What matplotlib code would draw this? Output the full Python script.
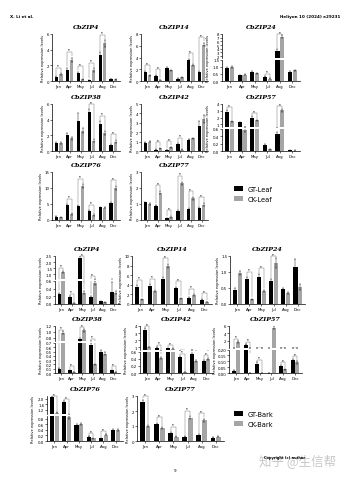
import numpy as np
import matplotlib.pyplot as plt

W, H = 351, 481

months = ['Jan', 'Apr', 'May', 'Jul', 'Aug', 'Dec']
genes = ['CbZIP4', 'CbZIP14', 'CbZIP24', 'CbZIP38', 'CbZIP42', 'CbZIP57', 'CbZIP76', 'CbZIP77']

# ---- leaf data ----
leaf_gt = {
    'CbZIP4': [0.5, 1.4, 1.0, 0.1, 3.3, 0.25],
    'CbZIP14': [1.5, 0.9, 2.2, 0.4, 3.5, 1.5],
    'CbZIP24': [0.9, 0.4, 0.65, 0.3, 3.4, 0.65],
    'CbZIP38': [1.0, 2.1, 3.8, 5.0, 3.5, 0.8],
    'CbZIP42': [0.9, 0.15, 0.1, 0.7, 1.2, 2.7],
    'CbZIP57': [2.8, 1.3, 2.0, 0.15, 0.47, 0.02],
    'CbZIP76': [1.0, 4.6, 4.3, 2.7, 4.0, 5.3],
    'CbZIP77': [1.1, 0.9, 0.1, 0.55, 0.7, 0.75],
}
leaf_ck = {
    'CbZIP4': [0.9, 2.7, 0.2, 1.4, 4.8, 0.2],
    'CbZIP14': [1.0, 0.2, 1.8, 0.6, 2.7, 6.2],
    'CbZIP24': [1.0, 0.45, 0.55, 0.15, 7.2, 0.75],
    'CbZIP38': [1.0, 1.6, 2.6, 1.3, 2.3, 1.2],
    'CbZIP42': [1.0, 0.3, 0.4, 0.15, 1.35, 3.4],
    'CbZIP57': [1.45, 0.58, 1.6, 0.05, 3.05, 0.01],
    'CbZIP76': [0.8, 2.0, 10.5, 1.6, 3.8, 10.0],
    'CbZIP77': [1.0, 1.7, 0.2, 2.3, 1.35, 0.95],
}
leaf_gt_err = {
    'CbZIP4': [0.1, 0.3, 0.2, 0.05, 0.4, 0.05],
    'CbZIP14': [0.2, 0.1, 0.2, 0.05, 0.3, 0.2],
    'CbZIP24': [0.1, 0.05, 0.08, 0.05, 0.5, 0.05],
    'CbZIP38': [0.1, 0.2, 1.0, 0.3, 0.3, 0.1],
    'CbZIP42': [0.05, 0.03, 0.03, 0.1, 0.05, 0.5],
    'CbZIP57': [0.3, 0.1, 0.2, 0.03, 0.05, 0.01],
    'CbZIP76': [0.2, 0.3, 0.5, 0.3, 0.2, 0.3],
    'CbZIP77': [0.05, 0.05, 0.03, 0.05, 0.05, 0.05],
}
leaf_ck_err = {
    'CbZIP4': [0.1, 0.3, 0.05, 0.2, 0.4, 0.05],
    'CbZIP14': [0.1, 0.05, 0.1, 0.1, 0.2, 0.3],
    'CbZIP24': [0.05, 0.05, 0.05, 0.03, 0.4, 0.05],
    'CbZIP38': [0.1, 0.2, 0.3, 0.2, 0.2, 0.2],
    'CbZIP42': [0.05, 0.05, 0.05, 0.03, 0.05, 0.4],
    'CbZIP57': [0.1, 0.05, 0.1, 0.01, 0.2, 0.01],
    'CbZIP76': [0.2, 0.3, 0.6, 0.2, 0.2, 0.6],
    'CbZIP77': [0.05, 0.1, 0.05, 0.1, 0.1, 0.1],
}
leaf_sig = {
    'CbZIP4': [0, 1, 2, 3, 4], 'CbZIP14': [0, 1, 4, 5], 'CbZIP24': [3, 4],
    'CbZIP38': [3, 4, 5], 'CbZIP42': [1, 2, 3], 'CbZIP57': [0, 2, 4],
    'CbZIP76': [1, 2, 3, 5], 'CbZIP77': [1, 2, 3, 4, 5],
}

# ---- bark data ----
bark_gt = {
    'CbZIP4': [0.25, 0.18, 2.3, 0.18, 0.07, 0.32],
    'CbZIP14': [3.6, 3.8, 5.2, 3.3, 1.3, 0.9],
    'CbZIP24': [0.45, 0.78, 0.85, 0.72, 0.47, 1.15],
    'CbZIP38': [0.1, 0.06, 0.75, 0.65, 0.5, 0.06],
    'CbZIP42': [3.5, 0.9, 0.85, 0.45, 0.55, 0.33],
    'CbZIP57': [0.02, 1.0, 0.08, 0.0, 0.06, 0.11],
    'CbZIP76': [2.1, 1.75, 0.58, 0.15, 0.1, 0.4],
    'CbZIP77': [2.6, 1.15, 0.55, 0.3, 0.4, 0.22],
}
bark_ck = {
    'CbZIP4': [1.2, 0.02, 0.3, 0.55, 0.04, 0.3],
    'CbZIP14': [1.0, 2.7, 8.0, 1.2, 1.8, 0.4],
    'CbZIP24': [0.98, 0.15, 0.4, 1.28, 0.33, 0.53],
    'CbZIP38': [0.97, 0.02, 1.05, 0.2, 0.45, 0.02],
    'CbZIP42': [1.0, 0.42, 0.8, 0.02, 0.35, 0.4],
    'CbZIP57': [1.7, 0.0, 0.0, 5.5, 0.03, 0.09],
    'CbZIP76': [1.0, 0.85, 0.6, 0.1, 0.22, 0.4],
    'CbZIP77': [1.0, 0.85, 0.3, 1.55, 1.4, 0.3],
}
bark_gt_err = {
    'CbZIP4': [0.03, 0.02, 0.2, 0.02, 0.01, 0.25],
    'CbZIP14': [0.3, 0.3, 0.4, 0.3, 0.2, 0.1],
    'CbZIP24': [0.05, 0.05, 0.08, 0.06, 0.04, 0.25],
    'CbZIP38': [0.01, 0.01, 0.05, 0.04, 0.03, 0.01],
    'CbZIP42': [0.2, 0.05, 0.05, 0.03, 0.03, 0.03],
    'CbZIP57': [0.005, 0.1, 0.01, 0.0, 0.01, 0.01],
    'CbZIP76': [0.1, 0.08, 0.04, 0.02, 0.02, 0.03],
    'CbZIP77': [0.15, 0.08, 0.05, 0.03, 0.05, 0.03],
}
bark_ck_err = {
    'CbZIP4': [0.1, 0.005, 0.03, 0.05, 0.01, 0.03],
    'CbZIP14': [0.1, 0.2, 0.4, 0.1, 0.2, 0.05],
    'CbZIP24': [0.06, 0.02, 0.04, 0.15, 0.03, 0.08],
    'CbZIP38': [0.05, 0.005, 0.06, 0.02, 0.03, 0.005],
    'CbZIP42': [0.05, 0.03, 0.05, 0.005, 0.03, 0.03],
    'CbZIP57': [0.2, 0.0, 0.0, 0.4, 0.005, 0.01],
    'CbZIP76': [0.05, 0.05, 0.04, 0.02, 0.02, 0.03],
    'CbZIP77': [0.05, 0.06, 0.03, 0.1, 0.1, 0.03],
}
bark_sig = {
    'CbZIP4': [0, 1, 2, 3], 'CbZIP14': [0, 1, 2, 3, 4, 5], 'CbZIP24': [1, 2, 3],
    'CbZIP38': [0, 1, 2, 3, 5], 'CbZIP42': [0, 1, 2, 3, 5], 'CbZIP57': [0, 1, 2, 4, 5],
    'CbZIP76': [0, 1, 3, 4], 'CbZIP77': [0, 1, 2, 3, 4],
}

# ---- y axis specs (single or broken) ----
leaf_axes = {
    'CbZIP4': dict(lim=(0, 6), ticks=[0, 2, 4, 6]),
    'CbZIP14': dict(lim=(0, 8), ticks=[0, 2, 4, 6, 8]),
    'CbZIP24': dict(lower=(0, 1.5), lticks=[0, 0.5, 1.0, 1.5], upper=(1.5, 8), uticks=[2, 3, 4, 5, 6, 7, 8], split=0.47),
    'CbZIP38': dict(lim=(0, 6), ticks=[0, 2, 4, 6]),
    'CbZIP42': dict(lim=(0, 5), ticks=[0, 1, 2, 3, 4, 5]),
    'CbZIP57': dict(lower=(0, 0.6), lticks=[0, 0.2, 0.4, 0.6], upper=(0.6, 4), uticks=[1, 2, 3, 4], split=0.49),
    'CbZIP76': dict(lim=(0, 15), ticks=[0, 5, 10, 15]),
    'CbZIP77': dict(lim=(0, 3), ticks=[0, 1, 2, 3]),
}
bark_axes = {
    'CbZIP4': dict(lower=(0, 0.6), lticks=[0, 0.2, 0.4, 0.6], upper=(0.6, 2.5), uticks=[1.0, 1.5, 2.0, 2.5], split=0.5),
    'CbZIP14': dict(lim=(0, 10), ticks=[0, 2, 4, 6, 8, 10]),
    'CbZIP24': dict(lim=(0, 1.5), ticks=[0, 0.5, 1.0, 1.5]),
    'CbZIP38': dict(lower=(0, 0.7), lticks=[0, 0.1, 0.2, 0.3, 0.4, 0.5, 0.6, 0.7], upper=(0.7, 1.2), uticks=[0.8, 1.0, 1.2], split=0.66),
    'CbZIP42': dict(lower=(0, 0.6), lticks=[0, 0.2, 0.4, 0.6], upper=(0.6, 4), uticks=[1, 2, 3, 4], split=0.47),
    'CbZIP57': dict(lower=(0, 0.2), lticks=[0, 0.05, 0.1, 0.15, 0.2], upper=(0.2, 6), uticks=[2, 4, 6], split=0.52),
    'CbZIP76': dict(lower=(0, 0.9), lticks=[0, 0.2, 0.4, 0.6, 0.8], upper=(0.9, 2.2), uticks=[1.2, 1.6, 2.0], split=0.58),
    'CbZIP77': dict(lim=(0, 3), ticks=[0, 1, 2, 3]),
}

# panel boxes in pixels: left, top, right, bottom
leaf_boxes = [(52, 35, 120, 82), (141, 35, 208, 82), (222, 35, 300, 82),
              (52, 105, 120, 152), (141, 105, 208, 152), (222, 105, 300, 152),
              (52, 173, 120, 221), (141, 173, 208, 221)]
bark_boxes = [(55, 257, 120, 305), (132, 257, 212, 305), (230, 257, 305, 305),
              (55, 327, 120, 374), (140, 327, 213, 374), (229, 327, 302, 374),
              (47, 397, 123, 442), (137, 397, 224, 442)]

GT_COLOR = '#000000'
CK_COLOR = '#a5a5a5'
x = np.arange(len(months))
bw = 0.34


def px_rect(l, t, r, b):
    return [l / W, 1 - b / H, (r - l) / W, (b - t) / H]


def style(ax, bottom=True):
    for s in ['top', 'right']:
        ax.spines[s].set_visible(False)
    ax.spines['left'].set_linewidth(0.5)
    ax.spines['bottom'].set_linewidth(0.5)
    ax.spines['bottom'].set_visible(bottom)
    ax.tick_params(labelsize=2.8, length=1.2, width=0.4, pad=0.8)
    ax.set_xlim(-0.6, len(months) - 0.4)
    if bottom:
        ax.set_xticks(x)
        ax.set_xticklabels(months)
    else:
        ax.set_xticks([])


def bars(ax, gt, ck, gte, cke):
    ek = dict(elinewidth=0.3, capsize=0.8, capthick=0.3, ecolor='black')
    b1 = ax.bar(x - bw / 2 - 0.02, gt, bw, color=GT_COLOR, yerr=gte, error_kw=ek)
    b2 = ax.bar(x + bw / 2 + 0.02, ck, bw, color=CK_COLOR, yerr=cke, error_kw=ek)
    return b1, b2


def draw_panel(fig, box, gene, gt, ck, gte, cke, sig, spec):
    l, t, r, b = box
    if 'lim' in spec:
        ax = fig.add_axes(px_rect(l, t, r, b))
        h = bars(ax, gt, ck, gte, cke)
        ax.set_ylim(*spec['lim'])
        ax.set_yticks(spec['ticks'])
        style(ax)
        axs = [ax]
        top_ax = ax
        ymax = spec['lim'][1]
        ax.set_ylabel('Relative expression levels', fontsize=2.6, labelpad=1)
    else:
        hgt = b - t
        mid = b - spec['split'] * hgt
        lo = fig.add_axes(px_rect(l, mid + 1, r, b))
        up = fig.add_axes(px_rect(l, t, r, mid - 1))
        h = bars(lo, gt, ck, gte, cke)
        bars(up, gt, ck, gte, cke)
        lo.set_ylim(*spec['lower'])
        lo.set_yticks(spec['lticks'])
        up.set_ylim(*spec['upper'])
        up.set_yticks(spec['uticks'])
        style(lo)
        style(up, bottom=False)
        axs = [lo, up]
        top_ax = up
        ymax = spec['upper'][1]
        fig.text((l - 14) / W, 1 - (t + b) / 2 / H, 'Relative expression levels',
                 fontsize=2.6, rotation=90, ha='center', va='center')
    top_ax.set_title(gene, fontsize=4.6, family='DejaVu Serif', style='italic',
                     fontweight='bold', pad=4)

    # significance brackets
    for i in sig:
        g_top = gt[i] + gte[i]
        c_top = ck[i] + cke[i]
        top = max(g_top, c_top)
        if 'lim' in spec:
            rng = spec['lim'][1] - spec['lim'][0]
        else:
            seg = spec['lower'] if top <= spec['lower'][1] else spec['upper']
            rng = seg[1] - seg[0]
        lvl = min(top + 0.12 * rng, ymax)
        xs = [x[i] - bw / 2 - 0.02, x[i] - bw / 2 - 0.02, x[i] + bw / 2 + 0.02, x[i] + bw / 2 + 0.02]
        ys = [min(g_top + 0.03 * rng, lvl), lvl, lvl, min(c_top + 0.03 * rng, lvl)]
        for ax in axs:
            ax.plot(xs, ys, color='#666666', lw=0.3, clip_on=False if ax is top_ax and lvl >= ymax else True)
        # star label goes in the axis holding the bracket level
        holder = axs[0] if len(axs) == 1 or lvl <= spec['lower'][1] else axs[1]
        holder.text(x[i], lvl, '**', fontsize=2.0, ha='center', va='bottom')
    return h


fig = plt.figure(figsize=(W / 100, H / 100), dpi=100)

for gene, box in zip(genes, leaf_boxes):
    h_leaf = draw_panel(fig, box, gene, leaf_gt[gene], leaf_ck[gene], leaf_gt_err[gene],
                        leaf_ck_err[gene], leaf_sig[gene], leaf_axes[gene])
for gene, box in zip(genes, bark_boxes):
    h_bark = draw_panel(fig, box, gene, bark_gt[gene], bark_ck[gene], bark_gt_err[gene],
                        bark_ck_err[gene], bark_sig[gene], bark_axes[gene])

fig.legend(h_leaf, ['GT-Leaf', 'CK-Leaf'], loc='upper left', bbox_to_anchor=(228 / W, 1 - 181 / H),
           frameon=False, fontsize=4.8, handlelength=1.3, handleheight=0.8, labelspacing=0.6)
fig.legend(h_bark, ['GT-Bark', 'CK-Bark'], loc='upper left', bbox_to_anchor=(228 / W, 1 - 406 / H),
           frameon=False, fontsize=4.8, handlelength=1.3, handleheight=0.8, labelspacing=0.6)

# page furniture
fig.text(10 / W, 1 - 17 / H, 'X. Li et al.', fontsize=3, fontweight='bold', va='center')
fig.text(340 / W, 1 - 17 / H, 'Heliyon 10 (2024) e29231', fontsize=3, fontweight='bold',
         ha='right', va='center')
fig.text(175 / W, 1 - 471 / H, '9', fontsize=3, ha='center', va='center')
fig.text(298 / W, 1 - 461 / H, '知乎 @生信帮', fontsize=9, color='#c8c8c8',
         family=['Noto Sans CJK SC', 'DejaVu Sans'], ha='center', va='center')
fig.text(285 / W, 1 - 458 / H, 'Copyright (c) author', fontsize=2.6, fontweight='bold',
         ha='center', va='center')

fig.savefig('out.png', dpi=100)
